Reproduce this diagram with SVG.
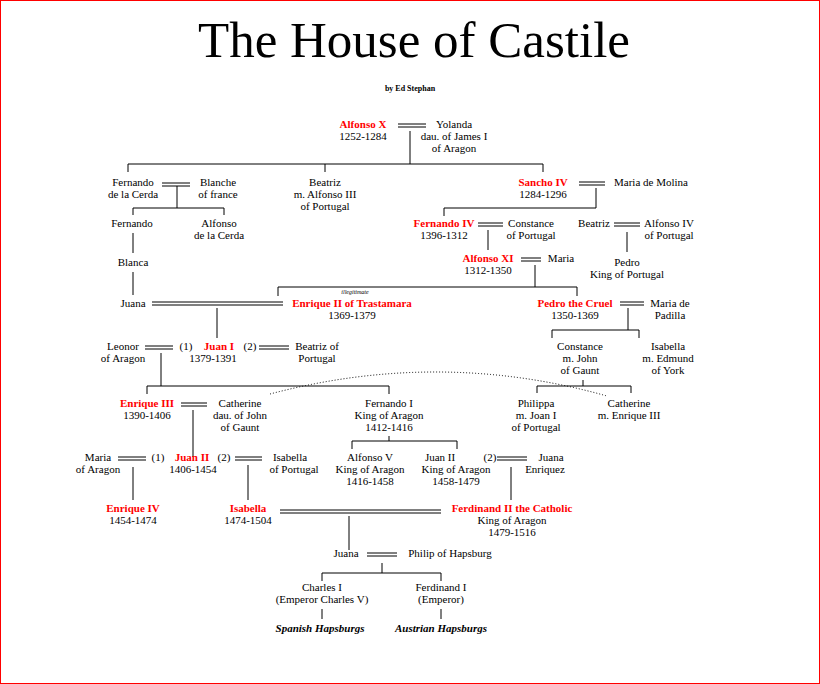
<svg xmlns="http://www.w3.org/2000/svg" width="820" height="684" viewBox="0 0 820 684">
<style>
text{font-family:"Liberation Serif","Times New Roman",serif;font-size:11px;text-anchor:middle;fill:#000}
.k{fill:#ff0000;font-weight:bold}
line,path{stroke:#000;stroke-width:1;fill:none}
.h{font-weight:bold;font-style:italic}
</style>
<rect x="0.5" y="0.5" width="819" height="683" fill="#fff" stroke="#ff0000"/>
<text x="414" y="57" style="font-size:51px">The House of Castile</text>
<text x="410" y="91" style="font-size:8px;font-weight:bold">by Ed Stephan</text>
<g id="connectors">
<path d="M398 124H426M398 127H426"/>
<path d="M410 131V164M128 164H543M128 164V172M325 164V172M543 164V172"/>
<path d="M162 183H190M162 186H190M177 186V208M133 208H224M133 208V215M224 208V215"/>
<path d="M133 233V253M133 272V295"/>
<path d="M579 182H605M579 185H605M596 188V208M444 208H596M444 208V216"/>
<path d="M478 223H503M478 226H503M614 223H640M614 226H640M627 232V252M488 230V250"/>
<path d="M521 258H541M521 261H541M535 265V287M278 287H577M278 287V296M577 287V296"/>
<path d="M152 302H283M152 305H283M620 302H644M620 305H644"/>
<path d="M217 308V338M145 346H173M145 349H173M259 346H289M259 349H289"/>
<path d="M628 308V330M552 330H639M552 330V338M639 330V338"/>
<path d="M583 380V386M537 386H631M537 386V393M631 386V393"/>
<path d="M161 353V386M147 386H389M147 386V394M389 386V394"/>
<path d="M270 394Q440 349 607 396" stroke-dasharray="1,2"/>
<path d="M181 403H207M181 406H207M193 410V457"/>
<path d="M389 436V441M352 441H457M352 441V449M457 441V449"/>
<path d="M497 457H527M497 460H527M511 467V500"/>
<path d="M118 457H146M118 460H146M235 457H262M235 460H262M133 467V500M248 465V500"/>
<path d="M280 510H441M280 513H441M349 516V550"/>
<path d="M367 553H397M367 556H397M382 563V573M322 573H441M322 573V581M441 573V581M322 609V619M441 609V619"/>
</g>
<g id="alfonsoX"><text class="k" x="363" y="128">Alfonso X</text><text x="363" y="140">1252-1284</text></g>
<g id="yolanda"><text x="454" y="128">Yolanda</text><text x="454" y="140">dau. of James I</text><text x="454" y="152">of Aragon</text></g>
<g id="fernandoCerda"><text x="133" y="186">Fernando</text><text x="133" y="198">de la Cerda</text></g>
<g id="blanche"><text x="218" y="186">Blanche</text><text x="218" y="198">of france</text></g>
<g id="beatriz1"><text x="325" y="186">Beatriz</text><text x="325" y="198">m. Alfonso III</text><text x="325" y="210">of Portugal</text></g>
<g id="sanchoIV"><text class="k" x="543" y="186">Sancho IV</text><text x="543" y="198">1284-1296</text></g>
<g id="mariaMolina"><text x="651" y="186">Maria de Molina</text></g>
<g id="fernando2"><text x="132" y="227">Fernando</text></g>
<g id="alfonsoCerda"><text x="219" y="227">Alfonso</text><text x="219" y="239">de la Cerda</text></g>
<g id="fernandoIV"><text class="k" x="444" y="227">Fernando IV</text><text x="444" y="239">1396-1312</text></g>
<g id="constance1"><text x="531" y="227">Constance</text><text x="531" y="239">of Portugal</text></g>
<g id="beatriz2"><text x="594" y="227">Beatriz</text></g>
<g id="alfonsoIVp"><text x="669" y="227">Alfonso IV</text><text x="669" y="239">of Portugal</text></g>
<g id="blanca"><text x="133" y="266">Blanca</text></g>
<g id="alfonsoXI"><text class="k" x="488" y="262">Alfonso XI</text><text x="488" y="274">1312-1350</text></g>
<g id="maria"><text x="561" y="262">Maria</text></g>
<g id="pedroP"><text x="627" y="266">Pedro</text><text x="627" y="278">King of Portugal</text></g>
<g id="juana1"><text x="133" y="307">Juana</text></g>
<g id="enriqueII"><text x="355" y="294" style="font-size:6px;font-style:italic">illegitimate</text><text class="k" x="352" y="307">Enrique II of Trastamara</text><text x="352" y="319">1369-1379</text></g>
<g id="pedroCruel"><text class="k" x="575" y="307">Pedro the Cruel</text><text x="575" y="319">1350-1369</text></g>
<g id="mariaPadilla"><text x="670" y="307">Maria de</text><text x="670" y="319">Padilla</text></g>
<g id="leonor"><text x="123" y="350">Leonor</text><text x="123" y="362">of Aragon</text></g>
<g id="juanI"><text x="186" y="350">(1)</text><text class="k" x="219" y="350">Juan I</text><text x="250" y="350">(2)</text><text x="213" y="362">1379-1391</text></g>
<g id="beatrizP"><text x="317" y="350">Beatriz of</text><text x="317" y="362">Portugal</text></g>
<g id="constance2"><text x="580" y="350">Constance</text><text x="580" y="362">m. John</text><text x="580" y="374">of Gaunt</text></g>
<g id="isabellaY"><text x="668" y="350">Isabella</text><text x="668" y="362">m. Edmund</text><text x="668" y="374">of York</text></g>
<g id="enriqueIII"><text class="k" x="147" y="407">Enrique III</text><text x="147" y="419">1390-1406</text></g>
<g id="catherine1"><text x="240" y="407">Catherine</text><text x="240" y="419">dau. of John</text><text x="240" y="431">of Gaunt</text></g>
<g id="fernandoI"><text x="389" y="407">Fernando I</text><text x="389" y="419">King of Aragon</text><text x="389" y="431">1412-1416</text></g>
<g id="philippa"><text x="536" y="407">Philippa</text><text x="536" y="419">m. Joan I</text><text x="536" y="431">of Portugal</text></g>
<g id="catherine2"><text x="629" y="407">Catherine</text><text x="629" y="419">m. Enrique III</text></g>
<g id="mariaA"><text x="98" y="461">Maria</text><text x="98" y="473">of Aragon</text></g>
<g id="juanII"><text x="158" y="461">(1)</text><text class="k" x="192" y="461">Juan II</text><text x="224" y="461">(2)</text><text x="193" y="473">1406-1454</text></g>
<g id="isabellaP"><text x="290" y="461">Isabella</text><text x="294" y="473">of Portugal</text></g>
<g id="alfonsoV"><text x="370" y="461">Alfonso V</text><text x="370" y="473">King of Aragon</text><text x="370" y="485">1416-1458</text></g>
<g id="juanIIA"><text x="440" y="461">Juan II</text><text x="490" y="461">(2)</text><text x="456" y="473">King of Aragon</text><text x="456" y="485">1458-1479</text></g>
<g id="juanaE"><text x="551" y="461">Juana</text><text x="545" y="473">Enriquez</text></g>
<g id="enriqueIV"><text class="k" x="133" y="512">Enrique IV</text><text x="133" y="524">1454-1474</text></g>
<g id="isabella"><text class="k" x="248" y="512">Isabella</text><text x="248" y="524">1474-1504</text></g>
<g id="ferdinandII"><text class="k" x="512" y="512">Ferdinand II the Catholic</text><text x="512" y="524">King of Aragon</text><text x="512" y="536">1479-1516</text></g>
<g id="juana2"><text x="346" y="557">Juana</text></g>
<g id="philip"><text x="450" y="557">Philip of Hapsburg</text></g>
<g id="charlesI"><text x="322" y="591">Charles I</text><text x="322" y="603">(Emperor Charles V)</text></g>
<g id="ferdinandI"><text x="441" y="591">Ferdinand I</text><text x="441" y="603">(Emperor)</text></g>
<g id="spanish"><text class="h" x="320" y="632">Spanish Hapsburgs</text></g>
<g id="austrian"><text class="h" x="441" y="632">Austrian Hapsburgs</text></g>
</svg>
